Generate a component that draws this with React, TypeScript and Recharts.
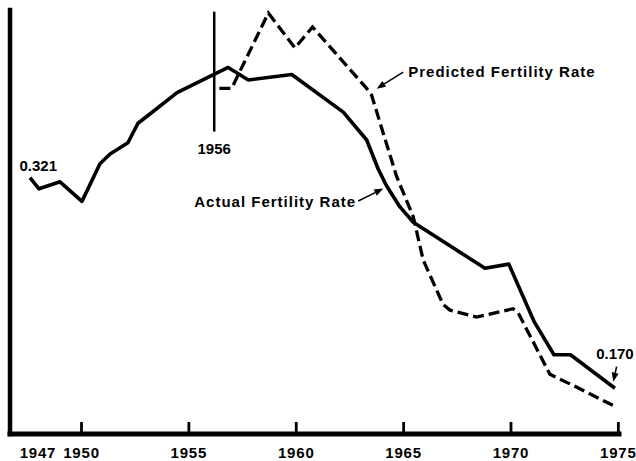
import React from "react";
import { LineChart, Line, XAxis, YAxis, ReferenceLine, ReferenceDot } from "recharts";

const actualYears = [1947.6, 1948.02, 1949.0, 1950.02, 1950.86, 1951.33, 1952.16, 1952.63, 1953.05, 1954.45, 1956.83, 1957.77, 1959.79, 1962.19, 1963.28, 1963.82, 1964.21, 1964.83, 1965.45, 1968.79, 1969.9, 1971.07, 1972.0, 1972.77, 1974.84];
const actualRates = [0.321, 0.313, 0.318, 0.304, 0.331, 0.338, 0.346, 0.36, 0.365, 0.382, 0.4, 0.391, 0.395, 0.368, 0.348, 0.327, 0.315, 0.3, 0.289, 0.256, 0.259, 0.218, 0.194, 0.194, 0.17];

// Predicted fertility rate
const predYears = [1956.42, 1956.99, 1958.7, 1959.94, 1960.76, 1963.28, 1963.51, 1964.67, 1965.45, 1965.91, 1966.84, 1967.16, 1968.4, 1970.1, 1970.34, 1971.81, 1972.9, 1974.84];
const predRates = [0.385, 0.385, 0.439, 0.414, 0.429, 0.385, 0.38, 0.322, 0.293, 0.262, 0.23, 0.226, 0.221, 0.227, 0.224, 0.18, 0.172, 0.157];

// X tick labels
const xTickValues = [1947.97, 1950, 1955, 1960, 1965, 1970, 1975];
const xTickLabels = ["1947", "1950", "1955", "1960", "1965", "1970", "1975"];

const markerYear = 1956.18;
const markerTop = 0.44;
const markerBottom = 0.354;

const actualData = actualYears.map((year, i) => ({ year, rate: actualRates[i] }));
const predData = predYears.map((year, i) => ({ year, rate: predRates[i] }));

const FONT = "'Liberation Sans', Arial, Helvetica, sans-serif";

function Arrow({ x1, y1, x2, y2 }: { x1: number; y1: number; x2: number; y2: number }) {
  const dx = x2 - x1;
  const dy = y2 - y1;
  const len = Math.sqrt(dx * dx + dy * dy);
  const ux = dx / len;
  const uy = dy / len;
  const hl = 9;
  const hw = 3.5;
  const bx = x2 - ux * hl;
  const by = y2 - uy * hl;
  const pts = `${x2},${y2} ${bx - uy * hw},${by + ux * hw} ${bx + uy * hw},${by - ux * hw}`;
  return (
    <g>
      <line x1={x1} y1={y1} x2={bx} y2={by} stroke="#000" strokeWidth={1.6} />
      <polygon points={pts} fill="#000" />
    </g>
  );
}

const textStyle = { fontFamily: FONT, fontWeight: 700, fontSize: 15, fill: "#000" } as const;

function XTick(props: any) {
  const { x, y, index } = props;
  const label = xTickLabels[index];
  return (
    <g>
      {label !== "1947" && <line x1={x} y1={y} x2={x} y2={y - 12} stroke="#000" strokeWidth={2.8} />}
      <text x={x} y={y + 24} textAnchor="middle" letterSpacing={0.8} {...textStyle}>
        {label}
      </text>
    </g>
  );
}

export default function App() {
  const lastA = actualData.length - 1;
  return (
    <div style={{ position: "absolute", left: 0, top: 0, background: "#fff" }}>
      <LineChart width={636} height={461} margin={{ top: 10, right: 17, bottom: 0, left: 0 }}>
        <XAxis
          type="number"
          dataKey="year"
          domain={[1946.67, 1975.03]}
          allowDataOverflow
          ticks={xTickValues}
          interval={0}
          height={27}
          tickSize={0}
          tickMargin={0}
          tickLine={false}
          tick={<XTick />}
          axisLine={{ stroke: "#000", strokeWidth: 5, strokeLinecap: "square" }}
        />
        <YAxis
          type="number"
          domain={[0.1372, 0.4412]}
          allowDataOverflow
          width={10}
          tick={false}
          tickLine={false}
          axisLine={{ stroke: "#000", strokeWidth: 4.5, strokeLinecap: "square" }}
        />
        <ReferenceLine
          segment={[
            { x: markerYear, y: markerTop },
            { x: markerYear, y: markerBottom },
          ]}
          stroke="#000"
          strokeWidth={2.5}
          ifOverflow="visible"
        />
        <Line
          data={predData}
          dataKey="rate"
          type="linear"
          stroke="#000"
          strokeWidth={3.3}
          strokeDasharray="11 5"
          dot={false}
          isAnimationActive={false}
        />
        <Line
          data={actualData}
          dataKey="rate"
          type="linear"
          stroke="#000"
          strokeWidth={3.6}
          strokeLinejoin="round"
          dot={false}
          isAnimationActive={false}
        />
        <ReferenceDot
          x={actualYears[0]}
          y={actualRates[0]}
          r={0}
          ifOverflow="visible"
          shape={(p: any) => (
            <text x={p.cx + 8.3} y={p.cy - 6.5} textAnchor="middle" {...textStyle}>
              {actualRates[0].toFixed(3)}
            </text>
          )}
        />
        <ReferenceDot
          x={actualYears[lastA]}
          y={actualRates[lastA]}
          r={0}
          ifOverflow="visible"
          shape={(p: any) => (
            <g>
              <text x={p.cx} y={p.cy - 28.8} textAnchor="middle" {...textStyle}>
                {actualRates[lastA].toFixed(3)}
              </text>
              <Arrow x1={p.cx + 1.7} y1={p.cy - 21.6} x2={p.cx - 1.7} y2={p.cy - 6.6} />
            </g>
          )}
        />
        <ReferenceDot
          x={markerYear}
          y={markerBottom}
          r={0}
          ifOverflow="visible"
          shape={(p: any) => (
            <text x={p.cx} y={p.cy + 22} textAnchor="middle" {...textStyle}>
              1956
            </text>
          )}
        />
        <ReferenceDot
          x={predYears[6]}
          y={predRates[6]}
          r={0}
          ifOverflow="visible"
          shape={(p: any) => (
            <g>
              <text x={p.cx + 36.6} y={p.cy - 18.8} textAnchor="start" letterSpacing={1} {...textStyle}>
                Predicted Fertility Rate
              </text>
              <Arrow x1={p.cx + 31.6} y1={p.cy - 23.3} x2={p.cx + 5} y2={p.cy - 6.7} />
            </g>
          )}
        />
        <ReferenceDot
          x={actualYears[16]}
          y={actualRates[16]}
          r={0}
          ifOverflow="visible"
          shape={(p: any) => (
            <g>
              <text x={p.cx - 192.4} y={p.cy + 21.1} textAnchor="start" letterSpacing={1} {...textStyle}>
                Actual Fertility Rate
              </text>
              <Arrow x1={p.cx - 28.4} y1={p.cy + 15} x2={p.cx - 3.4} y2={p.cy + 2.6} />
            </g>
          )}
        />
      </LineChart>
    </div>
  );
}
